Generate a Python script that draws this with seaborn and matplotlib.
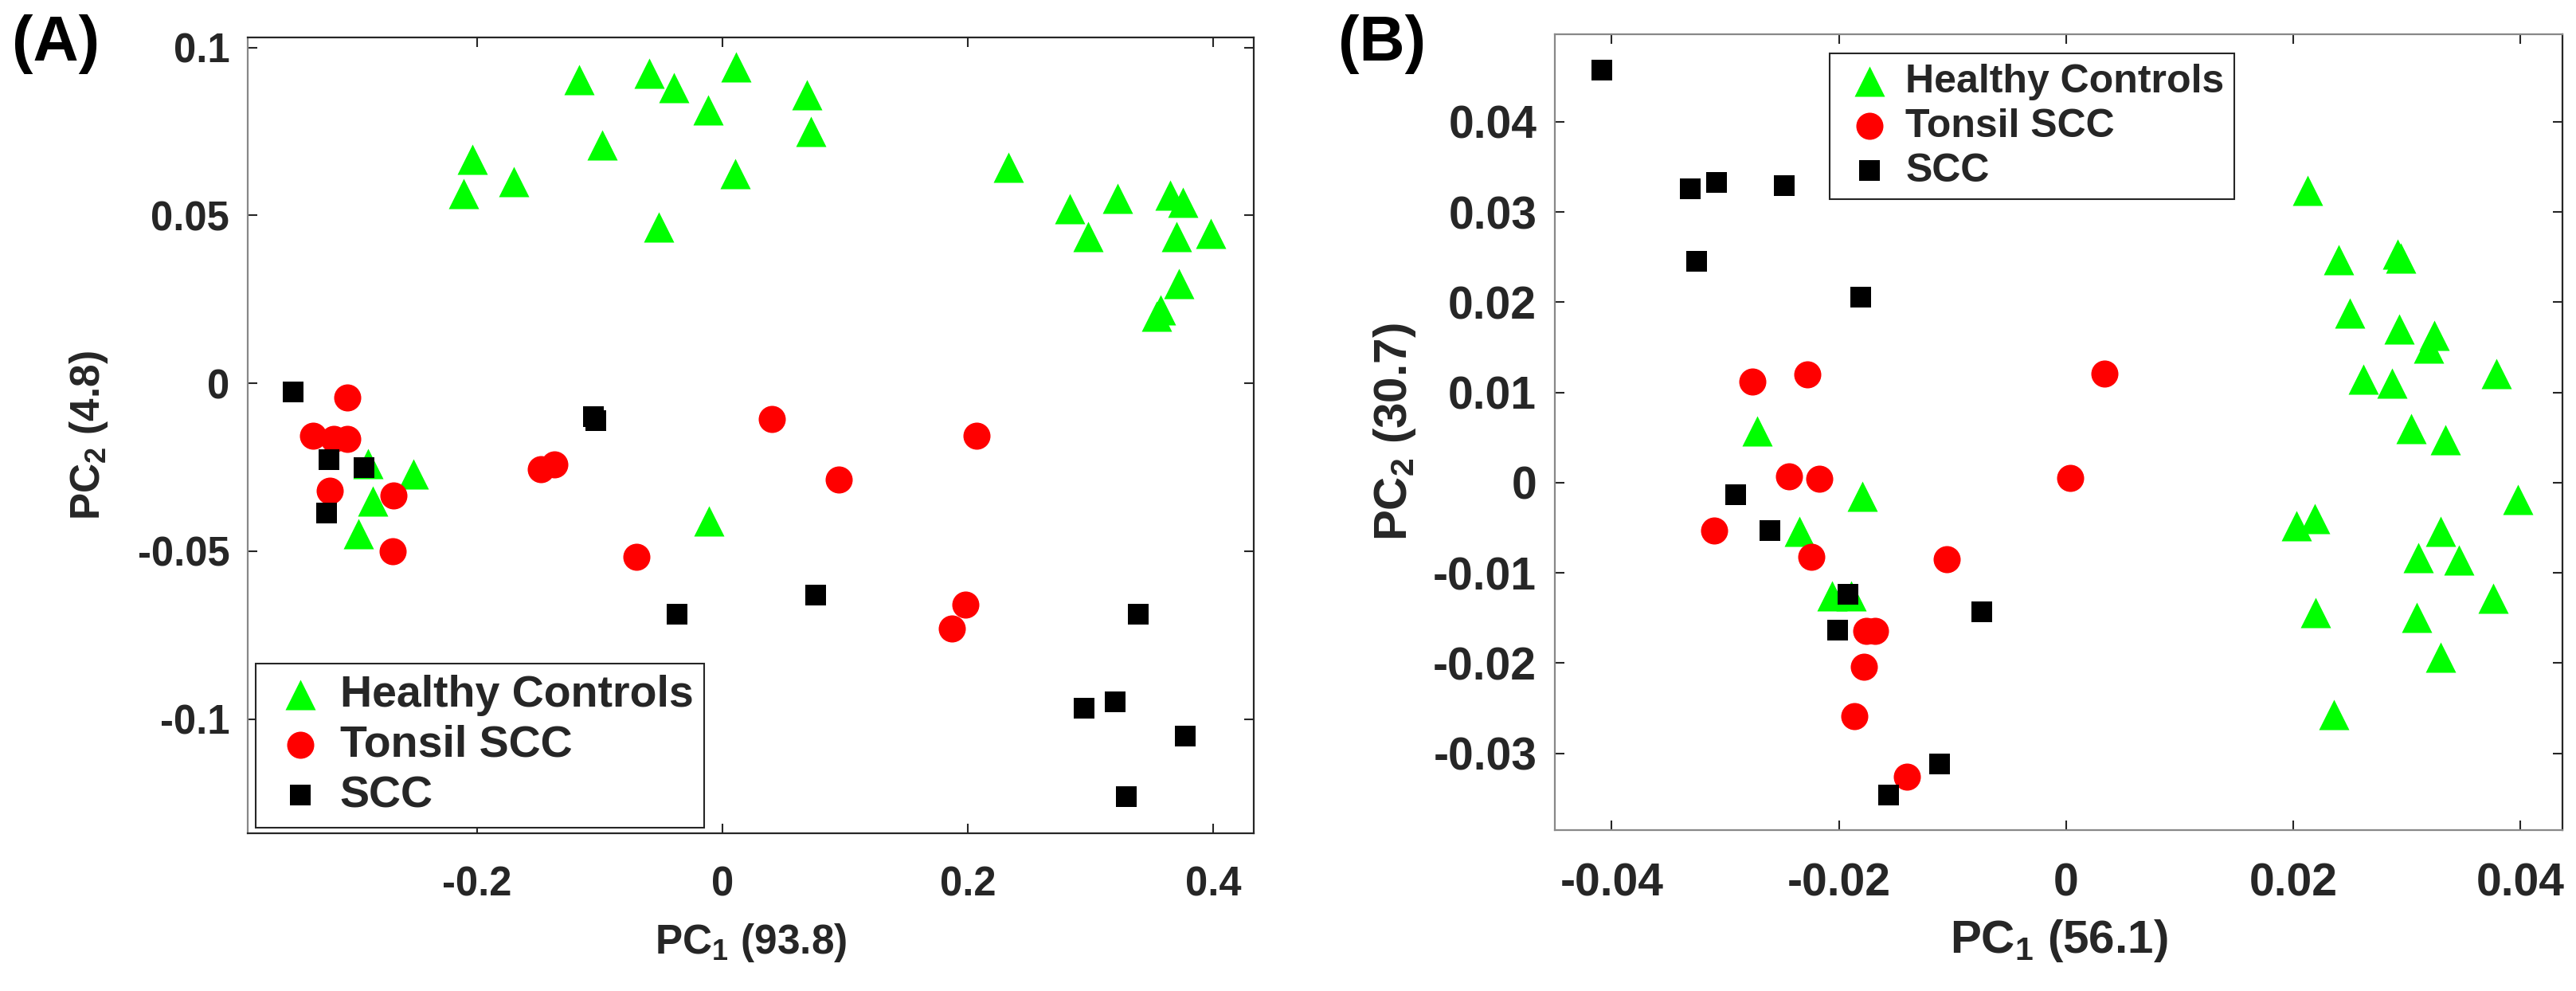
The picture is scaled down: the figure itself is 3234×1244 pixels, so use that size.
import pandas as pd
import matplotlib.pyplot as plt
import seaborn as sns
from matplotlib.ticker import FuncFormatter

# --- Data ---
# Panel A: PC1 (93.8) vs PC2 (4.8)
hc_a_x = [-0.117, -0.098, -0.204, -0.170, -0.211, -0.060, -0.040, -0.012, 0.011, 0.069,
          0.072, 0.010, -0.052, 0.233, 0.283, 0.298, 0.322, 0.365, 0.375, 0.370,
          0.398, 0.372, 0.357, 0.354, -0.289, -0.252, -0.285, -0.297, -0.011]
hc_a_y = [0.0905, 0.071, 0.0667, 0.060, 0.0564, 0.0924, 0.088, 0.0815, 0.0943, 0.086,
          0.075, 0.0625, 0.0465, 0.0644, 0.052, 0.0438, 0.055, 0.056, 0.054, 0.0438,
          0.0447, 0.0296, 0.0218, 0.020, -0.024, -0.027, -0.035, -0.0448, -0.041]
ts_a_x = [-0.306, -0.334, -0.317, -0.306, -0.148, -0.137, -0.320, -0.268, -0.269, -0.070,
          0.095, 0.198, 0.187, 0.040, 0.207]
ts_a_y = [-0.0043, -0.0157, -0.0166, -0.0166, -0.0256, -0.0242, -0.032, -0.0334, -0.050, -0.0516,
          -0.0287, -0.066, -0.073, -0.0107, -0.0156]
scc_a_x = [-0.350, -0.321, -0.292, -0.105, -0.103, -0.323, -0.037, 0.076, 0.339, 0.295,
           0.320, 0.377, 0.329]
scc_a_y = [-0.0026, -0.0228, -0.0251, -0.0100, -0.0110, -0.0386, -0.0687, -0.063, -0.0687, -0.0967,
           -0.0948, -0.105, -0.123]

# Panel B: PC1 (56.1) vs PC2 (30.7)
hc_b_x = [-0.0272, -0.0179, -0.0235, -0.0206, -0.0189, 0.0213, 0.0240, 0.0292, 0.0295, 0.0250,
          0.0293, 0.0324, 0.0319, 0.0262, 0.0287, 0.0379, 0.0304, 0.0334, 0.0398, 0.0203,
          0.0219, 0.0330, 0.0310, 0.0346, 0.0376, 0.0220, 0.0309, 0.0330, 0.0236]
hc_b_y = [0.0057, -0.0015, -0.0054, -0.0125, -0.0125, 0.0324, 0.0247, 0.0253, 0.0249, 0.0188,
          0.0170, 0.0163, 0.0149, 0.0115, 0.0110, 0.0121, 0.0060, 0.0048, -0.0019, -0.0048,
          -0.0040, -0.0054, -0.0083, -0.0086, -0.0128, -0.0144, -0.0149, -0.0193, -0.0257]
ts_b_x = [-0.0276, -0.0228, -0.0244, -0.0217, -0.0310, -0.0224, -0.0105, -0.0176, -0.0168, -0.0178,
          -0.0186, -0.0140, 0.0034, 0.0004]
ts_b_y = [0.0112, 0.0120, 0.0007, 0.0004, -0.0053, -0.0082, -0.0085, -0.0164, -0.0164, -0.0204,
          -0.0259, -0.0326, 0.0121, 0.0005]
scc_b_x = [-0.0409, -0.0331, -0.0308, -0.0248, -0.0325, -0.0181, -0.0291, -0.0261, -0.0192, -0.0074,
           -0.0201, -0.0111, -0.0156]
scc_b_y = [0.0457, 0.0326, 0.0333, 0.0329, 0.0245, 0.0206, -0.0013, -0.0053, -0.0124, -0.0143,
           -0.0163, -0.0312, -0.0346]

groups = ['Healthy Controls', 'Tonsil SCC', 'SCC']
colors = ['#00ff00', '#ff0000', '#000000']
markers = ['^', 'o', 's']
sizes = [750, 600, 376]

# --- Style ---
sns.set_theme(style='ticks')
plt.rcParams['font.family'] = ['Liberation Sans', 'DejaVu Sans']
plt.rcParams['font.weight'] = 'bold'
plt.rcParams['axes.labelweight'] = 'bold'
plt.rcParams['axes.unicode_minus'] = False
plt.rcParams['mathtext.fontset'] = 'custom'
plt.rcParams['mathtext.rm'] = 'Liberation Sans:bold'
plt.rcParams['mathtext.it'] = 'Liberation Sans:bold'
plt.rcParams['mathtext.bf'] = 'Liberation Sans:bold'
plt.rcParams['mathtext.default'] = 'rm'

TXT = '#262626'
GRAY = '#888888'

fig = plt.figure(figsize=(32.34, 12.44), dpi=100)
ax_a = fig.add_axes([0.0962, 0.1592, 0.3905, 0.8030])
ax_b = fig.add_axes([0.6036, 0.1624, 0.3911, 0.8030])


def make_df(xs, ys):
    rows = []
    for g, x, y in zip(groups, xs, ys):
        rows.append(pd.DataFrame({'pc1': x, 'pc2': y, 'group': g}))
    return pd.concat(rows, ignore_index=True)


def fmt(v, pos):
    return '%g' % round(v, 6)


def draw(ax, df, xlim, ylim, xticks, yticks, tick_fs, label_fs, xlabel, ylabel):
    for g, c, m, s in zip(groups, colors, markers, sizes):
        sns.scatterplot(data=df[df['group'] == g], x='pc1', y='pc2', marker=m, color=c,
                        s=s, linewidth=0, label=g, ax=ax, zorder=3)
    ax.set_xlim(xlim)
    ax.set_ylim(ylim)
    ax.set_xticks(xticks)
    ax.set_yticks(yticks)
    ax.xaxis.set_major_formatter(FuncFormatter(fmt))
    ax.yaxis.set_major_formatter(FuncFormatter(fmt))
    ax.tick_params(axis='both', direction='in', length=8.6, width=1.5, colors=TXT,
                   top=True, right=True, labelsize=tick_fs)
    ax.tick_params(axis='x', pad=29)
    ax.tick_params(axis='y', pad=16.5)
    for lab in ax.get_xticklabels() + ax.get_yticklabels():
        lab.set_fontweight('bold')
    ax.set_xlabel(xlabel, fontsize=label_fs, color=TXT, fontweight='bold')
    ax.set_ylabel(ylabel, fontsize=label_fs, color=TXT, fontweight='bold')
    for sp in ax.spines.values():
        sp.set_linewidth(1.6)
        sp.set_color(TXT)


df_a = make_df([hc_a_x, ts_a_x, scc_a_x], [hc_a_y, ts_a_y, scc_a_y])
df_b = make_df([hc_b_x, ts_b_x, scc_b_x], [hc_b_y, ts_b_y, scc_b_y])

draw(ax_a, df_a, (-0.387, 0.433), (-0.134, 0.103), [-0.2, 0, 0.2, 0.4],
     [-0.1, -0.05, 0, 0.05, 0.1], 36.5, 37,
     r'PC$_{1}$ (93.8)', r'PC$_{2}$ (4.8)')
draw(ax_b, df_b, (-0.0450, 0.0437), (-0.0385, 0.0497), [-0.04, -0.02, 0, 0.02, 0.04],
     [-0.03, -0.02, -0.01, 0, 0.01, 0.02, 0.03, 0.04], 41, 42,
     r'PC$_{1}$ (56.1)', r'PC$_{2}$ (30.7)')

ax_a.spines['left'].set_color(GRAY)
for side in ['left', 'top', 'bottom']:
    ax_b.spines[side].set_color(GRAY)

ax_a.xaxis.set_label_coords(0.5, -0.111)
ax_b.xaxis.set_label_coords(0.5, -0.110)
ax_a.yaxis.set_label_coords(-0.137, 0.5)
ax_b.yaxis.set_label_coords(-0.136, 0.5)

# legends
leg_kw = dict(borderaxespad=0, frameon=True, fancybox=False, framealpha=1,
              edgecolor=TXT, borderpad=0.25, labelspacing=0.2,
              handlelength=1.5, handletextpad=0.15)
leg_a = ax_a.legend(loc='lower left', bbox_to_anchor=(0.008, 0.007),
                    prop={'weight': 'bold', 'size': 40}, **leg_kw)
leg_a.get_frame().set_linewidth(1.5)
leg_b = ax_b.legend(loc='upper left', bbox_to_anchor=(0.273, 0.976),
                    prop={'weight': 'bold', 'size': 36}, **leg_kw)
leg_b.get_frame().set_linewidth(1.5)

# panel letters
fig.text(15 / 3234, 1 - 18 / 1244, '(A)', fontsize=57, fontweight='bold', va='top', ha='left', color='black')
fig.text(1680 / 3234, 1 - 18 / 1244, '(B)', fontsize=57, fontweight='bold', va='top', ha='left', color='black')

fig.savefig('out.png', dpi=100)
